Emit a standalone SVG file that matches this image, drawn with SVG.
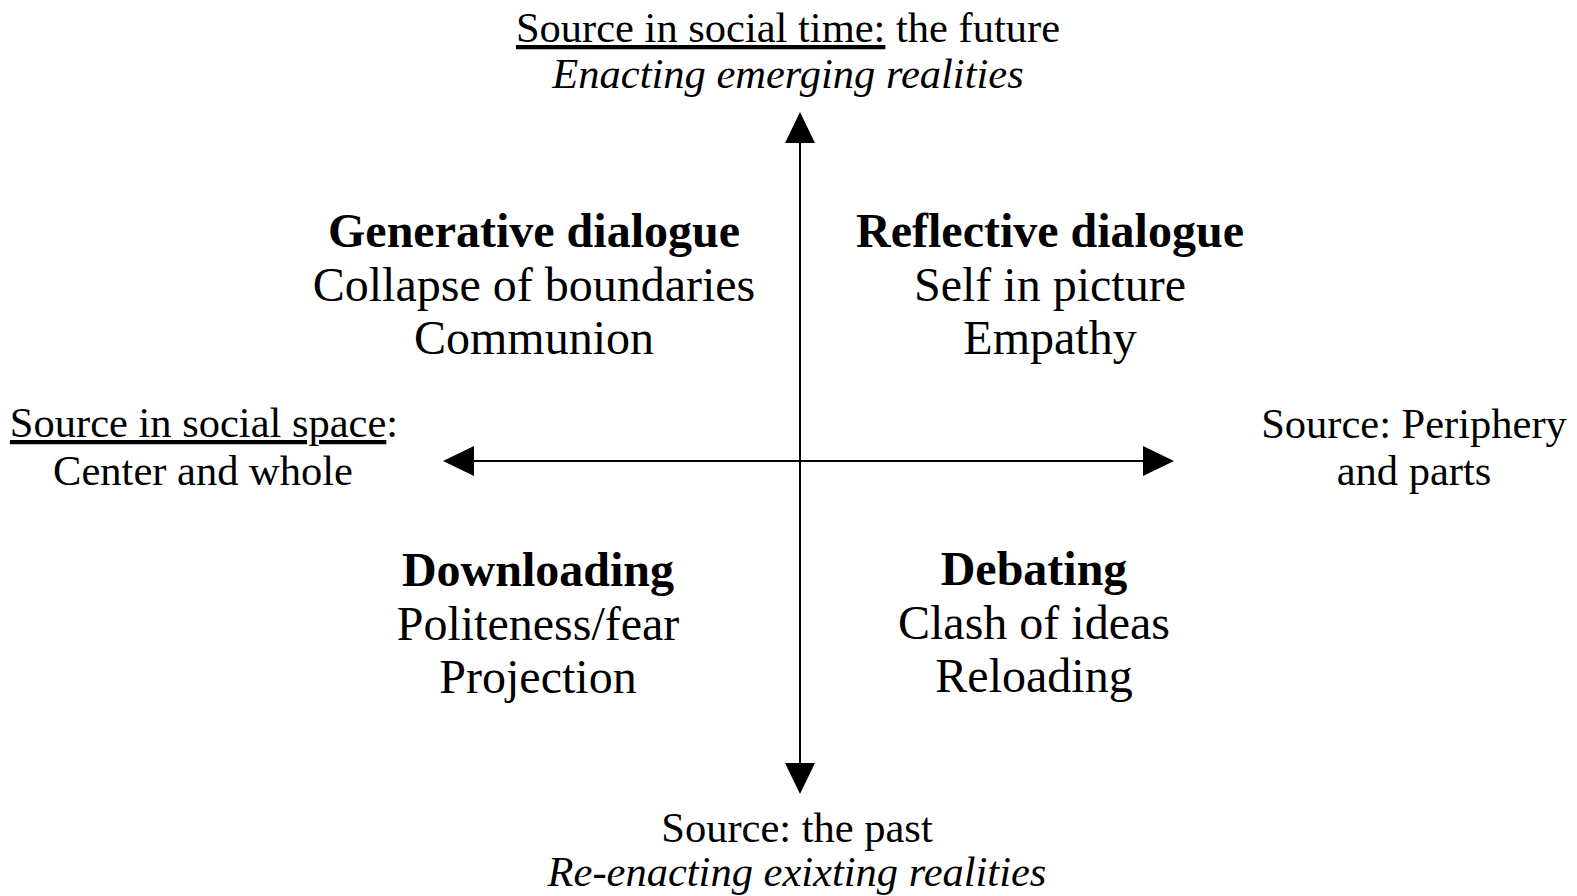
<svg xmlns="http://www.w3.org/2000/svg" width="1577" height="896" viewBox="0 0 1577 896">
<style>
text { font-family: "Liberation Serif", "Times New Roman", serif; fill: #000; text-anchor: middle; }
.ax { font-size: 42.5px; }
.q { font-size: 48px; }
.b { font-weight: bold; }
.i { font-style: italic; }
.u { text-decoration: underline; }
.axis { stroke: #000; stroke-width: 2; fill: none; }
</style>
<defs>
<marker id="ah" markerUnits="userSpaceOnUse" markerWidth="32" markerHeight="32" refX="0" refY="15" orient="auto-start-reverse" viewBox="0 0 32 30">
<path d="M0,0 L31,15 L0,30 Z" fill="#000"/>
</marker>
</defs>
<rect width="1577" height="896" fill="#fff"/>
<g id="connectors">
<line class="axis" x1="800" y1="143" x2="800" y2="763" marker-start="url(#ah)" marker-end="url(#ah)"/>
<line class="axis" x1="474" y1="461" x2="1143" y2="461" marker-start="url(#ah)" marker-end="url(#ah)"/>
</g>
<g id="top-label">
<text class="ax" x="788" y="42"><tspan class="u">Source in social time:</tspan> the future</text>
<text class="ax i" x="788" y="88">Enacting emerging realities</text>
</g>
<g id="left-label">
<text class="ax" x="204" y="437"><tspan class="u">Source in social space</tspan>:</text>
<text class="ax" x="203" y="485">Center and whole</text>
</g>
<g id="right-label">
<text class="ax" x="1414" y="438">Source: Periphery</text>
<text class="ax" x="1414" y="485">and parts</text>
</g>
<g id="bottom-label">
<text class="ax" x="797" y="842">Source: the past</text>
<text class="ax i" x="797" y="886">Re-enacting exixting realities</text>
</g>
<g id="generative">
<text class="q b" x="534" y="247">Generative dialogue</text>
<text class="q" x="534" y="301">Collapse of boundaries</text>
<text class="q" x="534" y="354">Communion</text>
</g>
<g id="reflective">
<text class="q b" x="1050" y="247">Reflective dialogue</text>
<text class="q" x="1050" y="301">Self in picture</text>
<text class="q" x="1050" y="354">Empathy</text>
</g>
<g id="downloading">
<text class="q b" x="538" y="586">Downloading</text>
<text class="q" x="538" y="640">Politeness/fear</text>
<text class="q" x="538" y="693">Projection</text>
</g>
<g id="debating">
<text class="q b" x="1034" y="585">Debating</text>
<text class="q" x="1034" y="639">Clash of ideas</text>
<text class="q" x="1034" y="692">Reloading</text>
</g>
</svg>
